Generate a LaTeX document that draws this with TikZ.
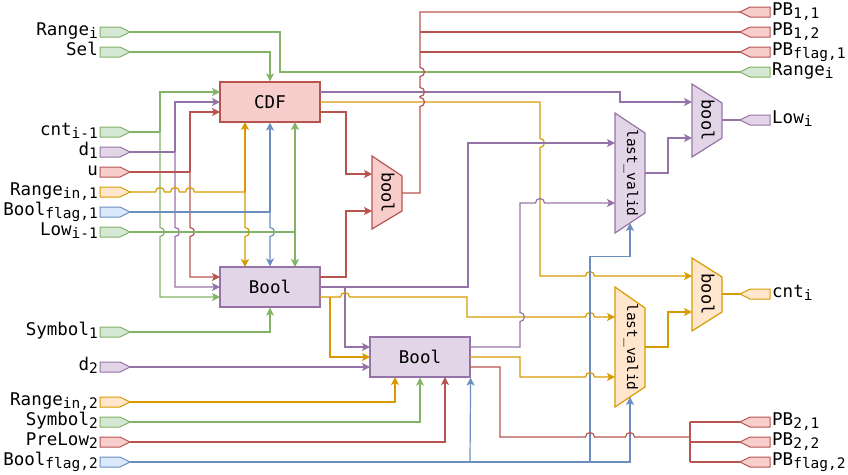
\documentclass[tikz,border=0pt]{standalone}
\usepackage{fontspec}
\setmonofont{DejaVu Sans Mono}
\usetikzlibrary{arrows.meta}
\definecolor{gS}{HTML}{82B366}\definecolor{gF}{HTML}{D5E8D4}
\definecolor{pS}{HTML}{9673A6}\definecolor{pF}{HTML}{E1D5E7}
\definecolor{rS}{HTML}{B85450}\definecolor{rF}{HTML}{F8CECC}
\definecolor{oS}{HTML}{D79B00}\definecolor{oF}{HTML}{FFE6CC}
\definecolor{bS}{HTML}{6C8EBF}\definecolor{bF}{HTML}{DAE8FC}
\newcommand\sbs[1]{\raisebox{-3pt}{\fontsize{14.5}{14.5}\selectfont #1}}
\newcommand\lpin[3]{\draw[line width=1pt,draw=#3S,fill=#3F] (100,#2-5) -- (120,#2-5) -- (130,#2) -- (120,#2+5) -- (100,#2+5) -- cycle; \coordinate (#1) at (130,#2);}
\newcommand\rpin[3]{\draw[line width=1pt,draw=#3S,fill=#3F] (770,#2-5) -- (750,#2-5) -- (740,#2) -- (750,#2+5) -- (770,#2+5) -- cycle; \coordinate (#1) at (740,#2);}
\tikzset{
 w/.style={line width=1.2pt},
 a/.style={-{Stealth[length=8pt,width=8pt,inset=2pt]}},
 gw/.style={w,draw=gS}, pw/.style={w,draw=pS}, rw/.style={w,draw=rS},
 ow/.style={w,draw=oS}, bw/.style={w,draw=bS},
 lbl/.style={font=\fontsize{17.5}{20}\selectfont\ttfamily, inner sep=0pt},
 box/.style={draw, line width=1.2pt, minimum width=100pt, minimum height=40pt, inner sep=0pt, font=\fontsize{17.5}{20}\selectfont\ttfamily},
 muxtxt/.style={font=\fontsize{17}{20}\selectfont\ttfamily, inner sep=0pt, rotate=-90},
 lvtxt/.style={font=\fontsize{14.5}{16}\selectfont\ttfamily, inner sep=0pt, rotate=-90}
}
\begin{document}
\begin{tikzpicture}[x=1pt,y=-1pt]
\useasboundingbox (0,0) rectangle (848,474);
% ---------- left pins ----------
\lpin{pRange}{32}{g}
\node[lbl,anchor=base east] (lRange) at (98,35) {Range\sbs{i}};
\lpin{pSel}{52}{g}
\node[lbl,anchor=base east] (lSel) at (98,55) {Sel};
\lpin{pCnt}{132}{g}
\node[lbl,anchor=base east] (lCnt) at (98,135) {cnt\sbs{i-1}};
\lpin{pD1}{152}{p}
\node[lbl,anchor=base east] (lD1) at (98,155) {d\sbs{1}};
\lpin{pU}{172}{r}
\node[lbl,anchor=base east] (lU) at (98,175) {u};
\lpin{pRin1}{192}{o}
\node[lbl,anchor=base east] (lRin1) at (98,195) {Range\sbs{in,1}};
\lpin{pBf1}{212}{b}
\node[lbl,anchor=base east] (lBf1) at (98,215) {Bool\sbs{flag,1}};
\lpin{pLow}{232}{g}
\node[lbl,anchor=base east] (lLow) at (98,235) {Low\sbs{i-1}};
\lpin{pSym1}{332}{g}
\node[lbl,anchor=base east] (lSym1) at (98,335) {Symbol\sbs{1}};
\lpin{pD2}{367}{p}
\node[lbl,anchor=base east] (lD2) at (98,370) {d\sbs{2}};
\lpin{pRin2}{402}{o}
\node[lbl,anchor=base east] (lRin2) at (98,405) {Range\sbs{in,2}};
\lpin{pSym2}{422}{g}
\node[lbl,anchor=base east] (lSym2) at (98,425) {Symbol\sbs{2}};
\lpin{pPre}{442}{r}
\node[lbl,anchor=base east] (lPre) at (98,445) {PreLow\sbs{2}};
\lpin{pBf2}{462}{b}
\node[lbl,anchor=base east] (lBf2) at (98,465) {Bool\sbs{flag,2}};
% ---------- right pins ----------
\rpin{qPB11}{12}{r}
\node[lbl,anchor=base west] (mPB11) at (772,15.5) {PB\sbs{1,1}};
\rpin{qPB12}{32}{r}
\node[lbl,anchor=base west] (mPB12) at (772,35.5) {PB\sbs{1,2}};
\rpin{qPBf1}{52}{r}
\node[lbl,anchor=base west] (mPBf1) at (772,55.5) {PB\sbs{flag,1}};
\rpin{qRange}{72}{g}
\node[lbl,anchor=base west] (mRange) at (772,75.5) {Range\sbs{i}};
\rpin{qLow}{120}{p}
\node[lbl,anchor=base west] (mLow) at (772,123.5) {Low\sbs{i}};
\rpin{qCnt}{294}{o}
\node[lbl,anchor=base west] (mCnt) at (772,297.5) {cnt\sbs{i}};
\rpin{qPB21}{422}{r}
\node[lbl,anchor=base west] (mPB21) at (772,425.5) {PB\sbs{2,1}};
\rpin{qPB22}{442}{r}
\node[lbl,anchor=base west] (mPB22) at (772,445.5) {PB\sbs{2,2}};
\rpin{qPBf2}{462}{r}
\node[lbl,anchor=base west] (mPBf2) at (772,465.5) {PB\sbs{flag,2}};
% ---------- boxes ----------
\node[box,draw=rS,fill=rF] (cdf) at (270,102) {CDF};
\node[box,draw=pS,fill=pF] (bool1) at (270,287) {Bool};
\node[box,draw=pS,fill=pF] (bool2) at (420,357) {Bool};
% ---------- muxes ----------
\draw[w,draw=rS,fill=rF] (372,156) -- (402,176) -- (402,211) -- (372,229) -- cycle;
\node[muxtxt] (mux1) at (388,192.5) {bool};
\draw[w,draw=pS,fill=pF] (692,84) -- (722,103) -- (722,138) -- (692,157) -- cycle;
\node[muxtxt] (mux2) at (708,120) {bool};
\draw[w,draw=oS,fill=oF] (692,258) -- (722,277) -- (722,312) -- (692,331) -- cycle;
\node[muxtxt] (mux3) at (708,294) {bool};
\draw[w,draw=pS,fill=pF] (615,113) -- (645,133) -- (645,213) -- (615,233) -- cycle;
\node[lvtxt] (lv1) at (631,173) {last\_valid};
\draw[w,draw=oS,fill=oF] (615,287) -- (645,308) -- (645,387) -- (615,407) -- cycle;
\node[lvtxt] (lv2) at (631,347) {last\_valid};
% ---------- wires: left inputs ----------
\draw[gw] (pRange) -- (280,32) -- (280,72) -- (qRange);
\draw[gw,a] (pSel) -- (270,52) -- (cdf.north);
\draw[gw] (pCnt) -- (160,132);
\draw[gw,a] (160,132) -- (160,92) -- (220,92);
\draw[gw,a] (160,132) -- (160,227.5) arc[start angle=90,end angle=-90,radius=4.5pt] -- (160,297) -- (220,297);
\draw[pw] (pD1) -- (175,152);
\draw[pw,a] (175,152) -- (175,102) -- (220,102);
\draw[pw,a] (175,152) -- (175,227.5) arc[start angle=90,end angle=-90,radius=4.5pt] -- (175,287) -- (220,287);
\draw[rw] (pU) -- (190,172);
\draw[rw,a] (190,172) -- (190,112) -- (220,112);
\draw[rw,a] (190,172) -- (190,227.5) arc[start angle=90,end angle=-90,radius=4.5pt] -- (190,277) -- (220,277);
\draw[ow] (pRin1) -- (155.5,192) arc[start angle=180,end angle=0,radius=4.5pt]
  -- (170.5,192) arc[start angle=180,end angle=0,radius=4.5pt]
  -- (185.5,192) arc[start angle=180,end angle=0,radius=4.5pt] -- (245,192);
\draw[ow,a] (245,192) -- (245,122);
\draw[ow,a] (245,192) -- (245,227.5) arc[start angle=90,end angle=-90,radius=4.5pt] -- (245,267);
\draw[bw] (pBf1) -- (270,212);
\draw[bw,a] (270,212) -- (cdf.south);
\draw[bw,a] (270,212) -- (270,227.5) arc[start angle=90,end angle=-90,radius=4.5pt] -- (bool1.north);
\draw[gw] (pLow) -- (295,232);
\draw[gw,a] (295,232) -- (295,122);
\draw[gw,a] (295,232) -- (295,267);
\draw[gw,a] (pSym1) -- (270,332) -- (bool1.south);
% ---------- CDF outputs ----------
\draw[pw,a] (320,92) -- (620,92) -- (620,102) -- (692,102);
\draw[ow,a] (320,102) -- (540,102) -- (540,138.5) arc[start angle=90,end angle=-90,radius=4.5pt]
  -- (540,276) -- (585.5,276) arc[start angle=180,end angle=0,radius=4.5pt] -- (692,276);
\draw[rw,a] (320,112) -- (346,112) -- (346,174) -- (372,174);
% ---------- Bool1 outputs ----------
\draw[rw,a] (320,277) -- (346,277) -- (346,211) -- (372,211);
\draw[pw,a] (320,287) -- (468,287) -- (468,143) -- (615,143);
\draw[pw,a] (345,287) -- (345,347) -- (370,347);
\draw[ow,a] (320,297) -- (340.5,297) arc[start angle=180,end angle=0,radius=4.5pt] -- (467,297) -- (467,317)
  -- (585.5,317) arc[start angle=180,end angle=0,radius=4.5pt] -- (615,317);
\draw[ow,a] (330,297) -- (330,357) -- (370,357);
% ---------- Bool2 ----------
\draw[pw,a] (pD2) -- (370,367);
\draw[ow,a] (pRin2) -- (395,402) -- (395,377);
\draw[gw,a] (pSym2) -- (420,422) -- (bool2.south);
\draw[rw,a] (pPre) -- (445,442) -- (445,377);
\draw[bw,a] (pBf2) -- (630,462) -- (630,397);
\draw[bw,a] (470,462) -- (bool2.south east);
\draw[bw,a] (590,462) -- (590,256.7) -- (630,256.7) -- (630,223);
\draw[pw,a] (470,347) -- (520,347) -- (520,321.5) arc[start angle=-90,end angle=90,radius=4.5pt]
  -- (520,203) -- (535.5,203) arc[start angle=180,end angle=0,radius=4.5pt] -- (615,203);
\draw[ow,a] (470,357) -- (520,357) -- (520,377) -- (585.5,377) arc[start angle=180,end angle=0,radius=4.5pt] -- (615,377);
\draw[rw] (470,367) -- (500,367) -- (500,437) -- (585.5,437) arc[start angle=180,end angle=0,radius=4.5pt]
  -- (625.5,437) arc[start angle=180,end angle=0,radius=4.5pt] -- (690,437);
\draw[rw] (690,422) -- (690,462);
\draw[rw] (690,422) -- (qPB21);
\draw[rw] (690,442) -- (qPB22);
\draw[rw] (690,462) -- (qPBf2);
% ---------- red mux output ----------
\draw[rw] (402,193) -- (420,193) -- (420,106.5) arc[start angle=-90,end angle=90,radius=4.5pt]
  -- (420,96.5) arc[start angle=-90,end angle=90,radius=4.5pt]
  -- (420,76.5) arc[start angle=-90,end angle=90,radius=4.5pt] -- (420,12) -- (qPB11);
\draw[rw] (420,32) -- (qPB12);
\draw[rw] (420,52) -- (qPBf1);
% ---------- right side ----------
\draw[pw,a] (645,173) -- (668,173) -- (668,138) -- (692,138);
\draw[pw] (722,120) -- (qLow);
\draw[ow,a] (645,347) -- (668,347) -- (668,312) -- (692,312);
\draw[ow] (722,294) -- (qCnt);
\end{tikzpicture}
\end{document}
